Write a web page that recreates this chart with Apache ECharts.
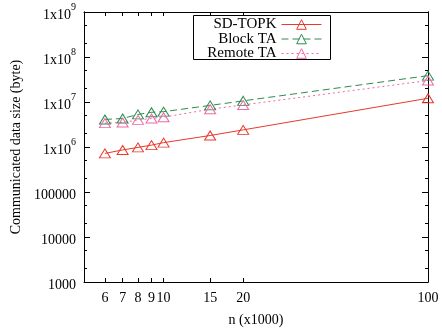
<!DOCTYPE html>
<html>
<head>
<meta charset="utf-8">
<script src="https://cdn.jsdelivr.net/npm/echarts@6/dist/echarts.min.js"></script>
<style>
html, body { margin: 0; padding: 0; background: #fff; }
#chart { width: 442px; height: 333px; }
</style>
</head>
<body>
<div id="chart"></div>
<script>
// n (x1000)
const nValues = [6, 7, 8, 9, 10, 15, 20, 100];
// communicated data size (byte)
const sdTopk = [7.2e5, 8.6e5, 9.8e5, 1.1e6, 1.25e6, 1.8e6, 2.4e6, 1.21e7];
const blockTa = [4.1e6, 4.3e6, 5.3e6, 5.9e6, 6.1e6, 8.4e6, 1.06e7, 3.85e7];
const remoteTa = [3.4e6, 3.5e6, 4.0e6, 4.3e6, 4.6e6, 6.9e6, 8.6e6, 3.0e7];
const seriesNames = ['SD-TOPK', 'Block TA', 'Remote TA'];

// tick labels
const xTicks = [6, 7, 8, 9, 10, 15, 20, 100];
const yMajorTicks = [1e3, 1e4, 1e5, 1e6, 1e7, 1e8, 1e9];
const yMinorTicks = [2e3, 5e3, 2e4, 5e4, 2e5, 5e5, 2e6, 5e6, 2e7, 5e7, 2e8, 5e8];

const FONT = '"Liberation Serif", "DejaVu Serif", serif';

const pairs = vals => nValues.map((n, i) => [n, vals[i]]);

// y 轴标签：>= 1e6 用 1x10^k 形式
function yLabel(v) {
    const e = Math.round(Math.log10(v));
    if (e >= 6) return '{b|1x10}{s|' + e + '}';
    return '{b|' + Math.round(Math.pow(10, e)) + '}';
}

function makeY(position, ticks, len, showLabel) {
    return {
        type: 'log',
        logBase: 10,
        min: 1e3,
        max: 1e9,
        position: position,
        axisLine: { show: true, lineStyle: { color: '#000', width: 1 } },
        axisTick: { show: true, inside: true, length: len, customValues: ticks, lineStyle: { color: '#000' } },
        axisLabel: showLabel ? {
            show: true,
            customValues: yMajorTicks,
            margin: 8,
            formatter: yLabel,
            rich: {
                b: { fontFamily: FONT, fontSize: 14, color: '#000', lineHeight: 20, verticalAlign: 'bottom' },
                s: { fontFamily: FONT, fontSize: 10, color: '#000', lineHeight: 20, verticalAlign: 'top', padding: [0, 0, 9, 0] }
            }
        } : { show: false },
        splitLine: { show: false },
        minorTick: { show: false }
    };
}

function makeX(position, showLabel) {
    return {
        type: 'log',
        logBase: 10,
        min: 5,
        max: 100,
        position: position,
        name: showLabel ? 'n (x1000)' : '',
        nameLocation: 'middle',
        nameGap: 31,
        nameTextStyle: { fontFamily: FONT, fontSize: 14, color: '#000' },
        axisLine: { show: true, lineStyle: { color: '#000', width: 1 } },
        axisTick: { show: true, inside: true, length: 4, customValues: xTicks, lineStyle: { color: '#000' } },
        axisLabel: showLabel ? {
            show: true,
            customValues: xTicks,
            margin: 9,
            fontFamily: FONT,
            fontSize: 14,
            color: '#000'
        } : { show: false },
        splitLine: { show: false },
        minorTick: { show: false }
    };
}

function lineSeries(name, vals, color, dash) {
    return {
        name: name,
        type: 'line',
        data: pairs(vals),
        xAxisIndex: 0,
        yAxisIndex: 0,
        symbol: 'triangle',
        symbolSize: [11, 9],
        showAllSymbol: true,
        itemStyle: { color: 'rgba(255,255,255,0)', borderColor: color, borderWidth: 1 },
        lineStyle: { color: color, width: 1, type: dash },
        emphasis: { disabled: true }
    };
}

// 每个图例一行，右对齐，使图标列对齐
function makeLegend(name, top) {
    return {
        data: [name],
        orient: 'vertical',
        right: 120,
        top: top,
        align: 'right',
        itemWidth: 40,
        itemHeight: 12,
        padding: 0,
        selectedMode: false,
        itemStyle: { borderWidth: 1 },
        lineStyle: { width: 1 },
        textStyle: { fontFamily: FONT, fontSize: 15, color: '#000' }
    };
}

const chart = echarts.init(document.getElementById('chart'), null, { renderer: 'canvas' });

const yAxes = [
    makeY('left', yMajorTicks, 6, true),
    makeY('left', yMinorTicks, 3, false),
    makeY('right', yMajorTicks, 6, false),
    makeY('right', yMinorTicks, 3, false)
];
yAxes[0].name = 'Communicated data size (byte)';
yAxes[0].nameLocation = 'middle';
yAxes[0].nameGap = 61;
yAxes[0].nameTextStyle = { fontFamily: FONT, fontSize: 14, color: '#000' };

chart.setOption({
    backgroundColor: '#fff',
    animation: false,
    textStyle: { fontFamily: FONT },
    grid: { left: 84, right: 14, top: 12, bottom: 51, containLabel: false },
    // 图例外框
    graphic: [{
        type: 'rect',
        left: 193,
        top: 15,
        z: 3,
        shape: { width: 137, height: 44 },
        style: { fill: '#fff', stroke: '#000', lineWidth: 1 }
    }],
    legend: [
        makeLegend(seriesNames[0], 17),
        makeLegend(seriesNames[1], 31.5),
        makeLegend(seriesNames[2], 46)
    ],
    xAxis: [makeX('bottom', true), makeX('top', false)],
    yAxis: yAxes,
    series: [
        lineSeries(seriesNames[0], sdTopk, '#e8392b', 'solid'),
        lineSeries(seriesNames[1], blockTa, '#2e8b4f', [7, 4]),
        lineSeries(seriesNames[2], remoteTa, '#ee6aa7', [2, 3])
    ]
});
</script>
</body>
</html>
